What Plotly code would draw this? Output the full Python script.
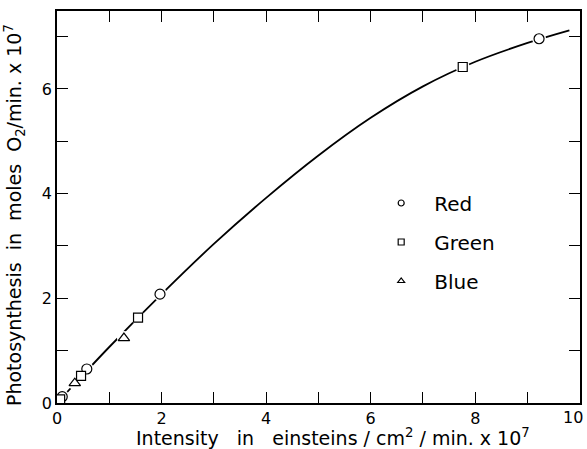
import plotly.graph_objects as go

# Fitted curve
curve_x = [0, 0.5, 1, 2, 3, 4, 5, 6, 7, 8, 9, 9.8]
curve_y = [0, 0.54, 1.07, 2.08, 3.04, 3.92, 4.73, 5.45, 6.05, 6.52, 6.88, 7.12]

# Measured points
red_x = [0.1, 0.57, 1.97, 9.22]
red_y = [0.12, 0.65, 2.08, 6.96]
green_x = [0.06, 0.46, 1.55, 7.76]
green_y = [0.07, 0.52, 1.63, 6.42]
blue_x = [0.34, 1.28]
blue_y = [0.38, 1.24]

series = [
    ("Red", red_x, red_y, "circle", 10),
    ("Green", green_x, green_y, "square", 9),
    ("Blue", blue_x, blue_y, "triangle-up", 10),
]

x_ticks = list(range(0, 11))
x_ticktext = [str(v) if (v % 2 == 0 and v < 10) else "" for v in x_ticks]
x_last_label = "10"
y_ticks = list(range(0, 8))
y_ticktext = [str(v) if v % 2 == 0 else "" for v in y_ticks]

FONT = "DejaVu Sans"

fig = go.Figure()
fig.add_trace(go.Scatter(x=curve_x, y=curve_y, mode="lines", line=dict(color="black", width=1.8, shape="spline", smoothing=1.0),
                         showlegend=False, hoverinfo="skip"))
# white halos to break the line around markers
all_x = red_x + green_x + blue_x
all_y = red_y + green_y + blue_y
fig.add_trace(go.Scatter(x=all_x, y=all_y, mode="markers",
                         marker=dict(symbol="circle", size=14, color="white"),
                         showlegend=False, hoverinfo="skip"))
for name, xs, ys, sym, sz in series:
    fig.add_trace(go.Scatter(x=xs, y=ys, mode="markers", name=name, legendgroup=name, showlegend=False,
                             marker=dict(symbol=sym, size=sz, color="white", line=dict(color="black", width=1.2))))
    fig.add_trace(go.Scatter(x=[None], y=[None], mode="markers", name=name, legendgroup=name, showlegend=True,
                             marker=dict(symbol=sym, size=6, color="white", line=dict(color="black", width=1.2))))

axis_common = dict(showline=True, linecolor="black", linewidth=1.5, mirror="ticks", ticks="inside",
                   ticklen=11, tickwidth=1.3, tickcolor="black", showgrid=False, zeroline=False,
                   ticklabeloverflow="allow", automargin=False,
                   tickfont=dict(family=FONT, size=16, color="black"))

fig.update_xaxes(range=[0, 10.003], tickvals=x_ticks, ticktext=x_ticktext, **axis_common)
fig.update_yaxes(range=[0, 7.49], tickvals=y_ticks, ticktext=y_ticktext, **axis_common)

# last x tick label, right-aligned so it stays inside the page
fig.add_annotation(text=x_last_label, xref="x", yref="paper", x=x_ticks[-1], y=0, showarrow=False,
                   xanchor="right", yanchor="top", xshift=5, yshift=-3,
                   font=dict(family=FONT, size=16, color="black"))

fig.add_annotation(text="Intensity   in   einsteins / cm<sup>2</sup> / min. x 10<sup>7</sup>",
                   xref="paper", yref="paper", x=0.528, y=-0.087, showarrow=False,
                   xanchor="center", yanchor="middle", font=dict(family=FONT, size=19, color="black"))
fig.add_annotation(text="Photosynthesis  in  moles  O<sub>2</sub>/min. x 10<sup>7</sup>",
                   xref="paper", yref="paper", x=-0.080, y=0.48, showarrow=False, textangle=-90,
                   xanchor="center", yanchor="middle", font=dict(family=FONT, size=19, color="black"))

fig.update_layout(
    width=587, height=449,
    margin=dict(l=57, r=7, t=11, b=46, autoexpand=False),
    paper_bgcolor="white", plot_bgcolor="white",
    legend=dict(x=0.595, y=0.56, xanchor="left", yanchor="top", bgcolor="rgba(0,0,0,0)", itemwidth=56,
                font=dict(family=FONT, size=20, color="black"), traceorder="grouped", tracegroupgap=10),
)

fig.write_html("out.html")
